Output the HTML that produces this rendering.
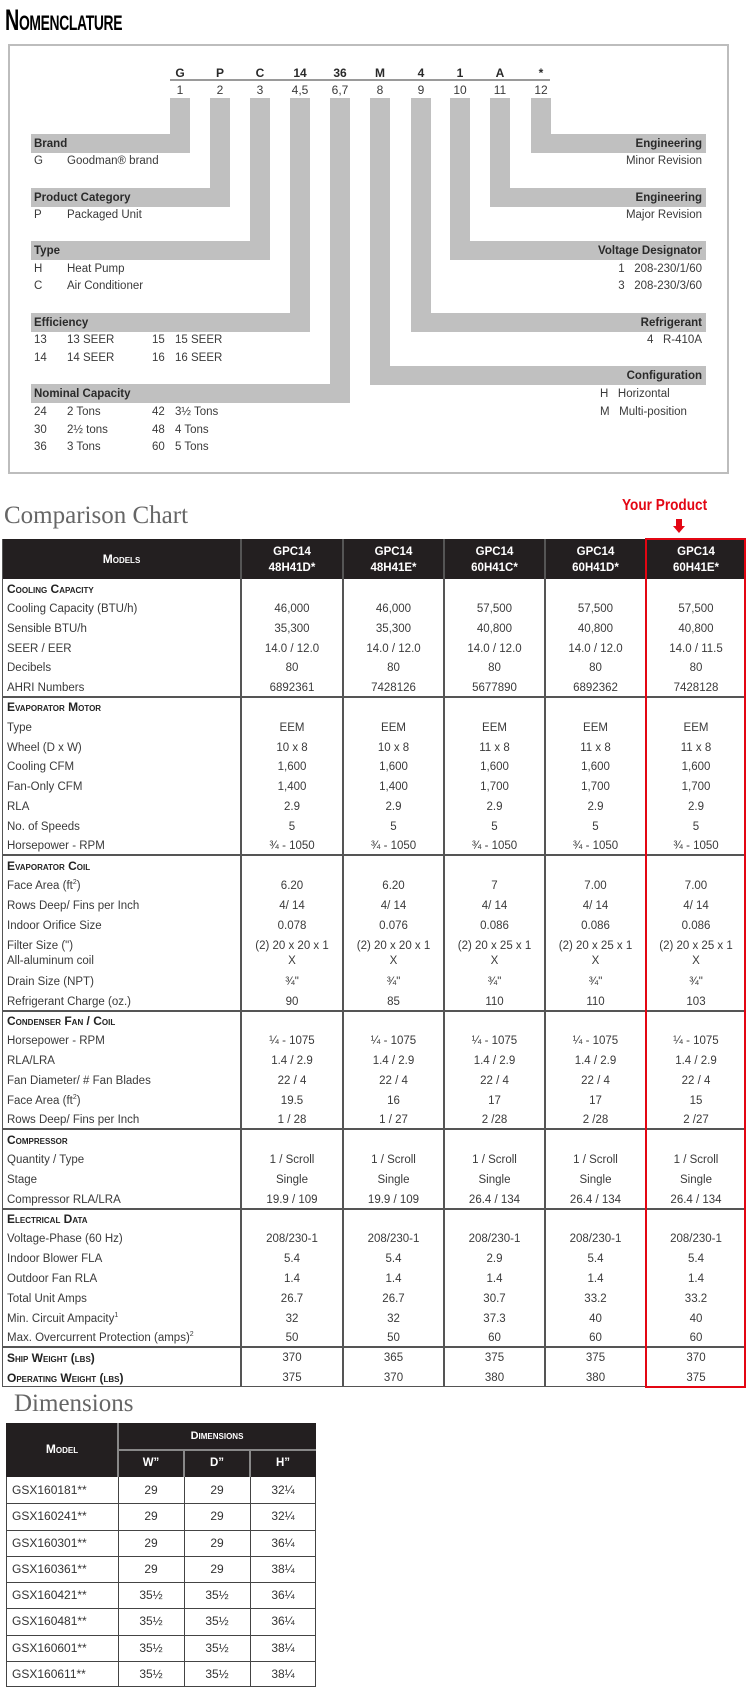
<!DOCTYPE html>
<html><head><meta charset="utf-8">
<style>
*{margin:0;padding:0;box-sizing:border-box}
body{width:746px;height:1703px;background:#fff;position:relative;overflow:hidden;font-family:"Liberation Sans",sans-serif;color:#333}
sup{font-size:7px;line-height:0;vertical-align:5px}
.a{position:absolute;white-space:nowrap}
.bar{position:absolute;background:#c0c0c0}
.t{font-size:11.5px;color:#3a3a3a;line-height:14px}
.b{font-weight:bold;font-size:11.5px;color:#2a2a2a;line-height:14px}
.c{text-align:center;transform:translateX(-50%)}
.sc{font-variant:small-caps;font-weight:bold;font-size:12px;color:#222;line-height:14px}
.vl{position:absolute;background:#555;width:1.5px}
.hl{position:absolute;background:#555;height:1.5px}
</style></head><body>
<div class="a" style="left:5px;top:4px;font-size:30px;font-weight:bold;font-variant:small-caps;color:#000;transform:scaleX(0.66);transform-origin:left top;letter-spacing:-0.5px">Nomenclature</div>
<div class="a" style="left:8px;top:44px;width:721px;height:430px;border:2px solid #bdbdbd"></div>
<div id="nom"></div>

<div class="a" style="left:4px;top:502px;font-family:'Liberation Serif',serif;font-size:25px;color:#666">Comparison Chart</div>
<div class="a" style="left:622px;top:497px;font-size:16px;font-weight:bold;color:#e30613;transform:scaleX(0.85);transform-origin:left top">Your Product</div>
<div class="a" style="left:676px;top:519px;width:6px;height:8px;background:#e30613"></div>
<div class="a" style="left:673px;top:526px;width:0;height:0;border-left:6px solid transparent;border-right:6px solid transparent;border-top:7px solid #e30613"></div>
<div id="cmp"></div>

<div class="a" style="left:14px;top:1390px;font-family:'Liberation Serif',serif;font-size:25px;color:#666">Dimensions</div>
<div id="dim"></div>

<script>
const codeLetters=["G","P","C","14","36","M","4","1","A","*"];
const codeNums=["1","2","3","4,5","6,7","8","9","10","11","12"];
const codeX=[180,220,260,300,340,380,421,460,500,541];
const nom=document.getElementById('nom');
function add(parent,cls,style,text,name){const d=document.createElement('div');d.className=cls;d.style.cssText=style;if(text!==undefined)d.innerHTML=text;


parent.appendChild(d);return d;}
add(nom,'a','left:170px;top:79px;width:380px;height:2px;background:#9a9a9a','', 'code-divider');
codeLetters.forEach((l,i)=>{
 add(nom,'a b c','left:'+codeX[i]+'px;top:66px;font-size:12px',l,'code-letter');
 add(nom,'a t c','left:'+codeX[i]+'px;top:83px;font-size:12px',codeNums[i],'code-position');
});
const leftGroups=[[0,134,"Brand"],[1,188,"Product Category"],[2,241,"Type"],[3,313,"Efficiency"],[4,384,"Nominal Capacity"]];
leftGroups.forEach(g=>{const cx=codeX[g[0]];
 add(nom,'bar','left:'+(cx-10)+'px;top:98px;width:20px;height:'+(g[1]+19-98)+'px','', 'connector-bar');
 add(nom,'bar','left:31px;top:'+g[1]+'px;width:'+(cx+10-31)+'px;height:19px','', 'label-bar');
 add(nom,'a b','left:34px;top:'+(g[1]+3)+'px',g[2],'group-label');
});
const rightGroups=[[9,134,"Engineering"],[8,188,"Engineering"],[7,241,"Voltage Designator"],[6,313,"Refrigerant"],[5,366,"Configuration"]];
rightGroups.forEach(g=>{const cx=codeX[g[0]];
 add(nom,'bar','left:'+(cx-10)+'px;top:98px;width:20px;height:'+(g[1]+19-98)+'px','', 'connector-bar');
 add(nom,'bar','left:'+(cx-10)+'px;top:'+g[1]+'px;width:'+(706-cx+10)+'px;height:19px','', 'label-bar');
 add(nom,'a b','right:'+(746-702)+'px;top:'+(g[1]+3)+'px',g[2],'group-label');
});
const leftItems=[[161,"G","Goodman® brand"],[215,"P","Packaged Unit"],[269,"H","Heat Pump"],[286,"C","Air Conditioner"],
[340,"13","13 SEER","15","15 SEER"],[358,"14","14 SEER","16","16 SEER"],
[412,"24","2 Tons","42","3½ Tons"],[430,"30","2½ tons","48","4 Tons"],[447,"36","3 Tons","60","5 Tons"]];
leftItems.forEach(r=>{
 add(nom,'a t','left:34px;top:'+(r[0]-7)+'px',r[1],'code-key');
 add(nom,'a t','left:67px;top:'+(r[0]-7)+'px',r[2],'code-meaning');
 if(r[3]){add(nom,'a t','left:152px;top:'+(r[0]-7)+'px',r[3],'code-key');
 add(nom,'a t','left:175px;top:'+(r[0]-7)+'px',r[4],'code-meaning');}
});
const rightItems=[[161,"Minor Revision"],[215,"Major Revision"],[269,"1&nbsp;&nbsp;&nbsp;208-230/1/60"],[286,"3&nbsp;&nbsp;&nbsp;208-230/3/60"],[340,"4&nbsp;&nbsp;&nbsp;R-410A"]];
rightItems.forEach(r=>add(nom,'a t','right:44px;top:'+(r[0]-7)+'px',r[1],'code-meaning'));
add(nom,'a t','left:600px;top:387px','H&nbsp;&nbsp;&nbsp;Horizontal','config-h');
add(nom,'a t','left:600px;top:405px','M&nbsp;&nbsp;&nbsp;Multi-position','config-m');

const models=["GPC14<br>48H41D*","GPC14<br>48H41E*","GPC14<br>60H41C*","GPC14<br>60H41D*","GPC14<br>60H41E*"];
const colEdges=[2,241,343,444,545,646,746];
const sections=[
 ["Cooling Capacity",590,697,[
  [609,"Cooling Capacity (BTU/h)",["46,000","46,000","57,500","57,500","57,500"]],
  [629,"Sensible BTU/h",["35,300","35,300","40,800","40,800","40,800"]],
  [649,"SEER / EER",["14.0 / 12.0","14.0 / 12.0","14.0 / 12.0","14.0 / 12.0","14.0 / 11.5"]],
  [668,"Decibels",["80","80","80","80","80"]],
  [688,"AHRI Numbers",["6892361","7428126","5677890","6892362","7428128"]]]],
 ["Evaporator Motor",708,855,[
  [728,"Type",["EEM","EEM","EEM","EEM","EEM"]],
  [748,"Wheel (D x W)",["10 x 8","10 x 8","11 x 8","11 x 8","11 x 8"]],
  [767,"Cooling CFM",["1,600","1,600","1,600","1,600","1,600"]],
  [787,"Fan-Only CFM",["1,400","1,400","1,700","1,700","1,700"]],
  [807,"RLA",["2.9","2.9","2.9","2.9","2.9"]],
  [827,"No. of Speeds",["5","5","5","5","5"]],
  [846,"Horsepower - RPM",["¾ - 1050","¾ - 1050","¾ - 1050","¾ - 1050","¾ - 1050"]]]],
 ["Evaporator Coil",867,1011,[
  [886,"Face Area (ft<sup>2</sup>)",["6.20","6.20","7","7.00","7.00"]],
  [906,"Rows Deep/ Fins per Inch",["4/ 14","4/ 14","4/ 14","4/ 14","4/ 14"]],
  [926,"Indoor Orifice Size",["0.078","0.076","0.086","0.086","0.086"]],
  [946,"Filter Size (\")",["(2) 20 x 20 x 1","(2) 20 x 20 x 1","(2) 20 x 25 x 1","(2) 20 x 25 x 1","(2) 20 x 25 x 1"]],
  [961,"All-aluminum coil",["X","X","X","X","X"]],
  [982,"Drain Size (NPT)",["¾\"","¾\"","¾\"","¾\"","¾\""]],
  [1002,"Refrigerant Charge (oz.)",["90","85","110","110","103"]]]],
 ["Condenser Fan / Coil",1022,1129,[
  [1041,"Horsepower - RPM",["¼ - 1075","¼ - 1075","¼ - 1075","¼ - 1075","¼ - 1075"]],
  [1061,"RLA/LRA",["1.4 / 2.9","1.4 / 2.9","1.4 / 2.9","1.4 / 2.9","1.4 / 2.9"]],
  [1081,"Fan Diameter/ # Fan Blades",["22 / 4","22 / 4","22 / 4","22 / 4","22 / 4"]],
  [1101,"Face Area (ft<sup>2</sup>)",["19.5","16","17","17","15"]],
  [1120,"Rows Deep/ Fins per Inch",["1 / 28","1 / 27","2 /28","2 /28","2 /27"]]]],
 ["Compressor",1141,1209,[
  [1160,"Quantity / Type",["1 / Scroll","1 / Scroll","1 / Scroll","1 / Scroll","1 / Scroll"]],
  [1180,"Stage",["Single","Single","Single","Single","Single"]],
  [1200,"Compressor RLA/LRA",["19.9 / 109","19.9 / 109","26.4 / 134","26.4 / 134","26.4 / 134"]]]],
 ["Electrical Data",1220,1347,[
  [1239,"Voltage-Phase (60 Hz)",["208/230-1","208/230-1","208/230-1","208/230-1","208/230-1"]],
  [1259,"Indoor Blower FLA",["5.4","5.4","2.9","5.4","5.4"]],
  [1279,"Outdoor Fan RLA",["1.4","1.4","1.4","1.4","1.4"]],
  [1299,"Total Unit Amps",["26.7","26.7","30.7","33.2","33.2"]],
  [1319,"Min. Circuit Ampacity<sup>1</sup>",["32","32","37.3","40","40"]],
  [1338,"Max. Overcurrent Protection (amps)<sup>2</sup>",["50","50","60","60","60"]]]]
];
const weights=[[1358,"Ship Weight (lbs)",["370","365","375","375","370"]],[1378,"Operating Weight (lbs)",["375","370","380","380","375"]]];
const cmp=document.getElementById('cmp');
const T0=539,HB=579,TB=1387;
add(cmp,'a','left:2px;top:'+T0+'px;width:744px;height:'+(HB-T0)+'px;background:#231f20','','table-header');
add(cmp,'a','left:2px;top:'+T0+'px;width:744px;height:'+(TB-T0)+'px;border:1.5px solid #555;border-top:none','','table-frame');
add(cmp,'a','color:#fff;font-weight:bold;font-variant:small-caps;font-size:12px;left:'+((2+241)/2)+'px;top:552px;transform:translateX(-50%)','Models','models-header');
models.forEach((m,i)=>{const cx=(colEdges[i+1]+colEdges[i+2])/2;
 add(cmp,'a','color:#fff;font-weight:bold;font-size:11.5px;line-height:16px;text-align:center;left:'+cx+'px;top:544px;transform:translateX(-50%)',m,'model-header');
});
for(let i=1;i<6;i++){add(cmp,'vl','left:'+(colEdges[i]-0.75)+'px;top:'+T0+'px;height:'+(TB-T0)+'px','','column-divider');}
function row(y,label,vals,bold){
 add(cmp,'a '+(bold?'sc':'t'),'left:7px;top:'+(y-7)+'px',label,'row-label');
 vals.forEach((v,i)=>{const cx=(colEdges[i+1]+colEdges[i+2])/2;
  add(cmp,'a t c','left:'+cx+'px;top:'+(y-7)+'px',v,'cell-value');});
}
sections.forEach(s=>{
 add(cmp,'a sc','left:7px;top:'+(s[1]-8)+'px',s[0],'section-header');
 s[3].forEach(r=>row(r[0],r[1],r[2],false));
 add(cmp,'hl','left:2px;top:'+(s[2]-0.75)+'px;width:744px','','section-divider');
});
weights.forEach(r=>row(r[0],r[1],r[2],true));
add(cmp,'a','left:645px;top:538px;width:101px;height:'+(TB-538+1)+'px;border:2px solid #e30613','','your-product-highlight');

const dimModels=["GSX160181**","GSX160241**","GSX160301**","GSX160361**","GSX160421**","GSX160481**","GSX160601**","GSX160611**"];
const dimW=["29","29","29","29","35½","35½","35½","35½"];
const dimD=["29","29","29","29","35½","35½","35½","35½"];
const dimH=["32¼","32¼","36¼","38¼","36¼","36¼","38¼","38¼"];
const dim=document.getElementById('dim');
const DX=[6,118,184,250,316],DT=1423,DS=1450,DH=1477,RH=26.25;
add(dim,'a','left:6px;top:'+DT+'px;width:310px;height:'+(DH-DT)+'px;background:#231f20','','dim-header');
add(dim,'a','left:118px;top:'+(DS-1)+'px;width:198px;height:2px;background:#888','','dim-header-split');
add(dim,'a','left:117px;top:'+DT+'px;width:2px;height:'+(DH-DT)+'px;background:#888','','dim-header-divider');
add(dim,'a','left:183px;top:'+DS+'px;width:2px;height:'+(DH-DS)+'px;background:#888','','dim-header-divider');
add(dim,'a','left:249px;top:'+DS+'px;width:2px;height:'+(DH-DS)+'px;background:#888','','dim-header-divider');
add(dim,'a','color:#fff;font-weight:bold;font-variant:small-caps;font-size:12px;left:62px;top:1442px;transform:translateX(-50%)','Model','model-col-header');
add(dim,'a','color:#fff;font-weight:bold;font-variant:small-caps;font-size:11px;left:217px;top:1430px;transform:translateX(-50%)','Dimensions','dimensions-col-header');
["W”","D”","H”"].forEach((h,i)=>add(dim,'a','color:#fff;font-weight:bold;font-size:11.5px;left:'+((DX[i+1]+DX[i+2])/2)+'px;top:1457px;transform:translateX(-50%)',h,'dim-subheader'));
add(dim,'a','left:6px;top:'+DH+'px;width:310px;height:'+(RH*8)+'px;border:1px solid #444;border-top:none','','dim-body');
for(let i=1;i<4;i++)add(dim,'a','left:'+(DX[i]-0.5)+'px;top:'+DH+'px;width:1px;height:'+(RH*8)+'px;background:#444','','dim-col-divider');
dimModels.forEach((m,r)=>{const y=DH+RH*r;
 if(r>0)add(dim,'a','left:6px;top:'+y+'px;width:310px;height:1px;background:#444','','dim-row-divider');
 add(dim,'a','left:12px;top:'+(y+6)+'px;font-size:12px;color:#333',m,'dim-model');
 [dimW,dimD,dimH].forEach((arr,i)=>add(dim,'a','left:'+((DX[i+1]+DX[i+2])/2)+'px;top:'+(y+6)+'px;font-size:12px;color:#333;transform:translateX(-50%)',arr[r],'dim-value'));
});
</script>
</body></html>
